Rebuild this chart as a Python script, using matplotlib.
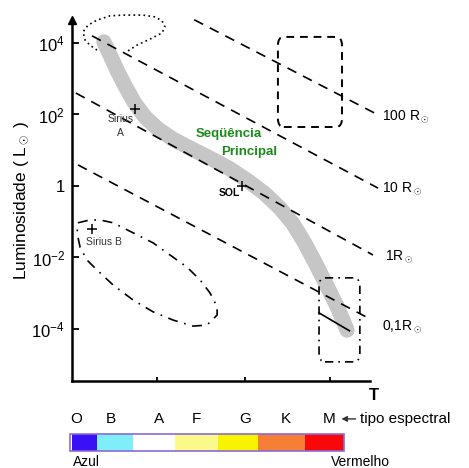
import matplotlib
matplotlib.use("Agg")
import matplotlib.pyplot as plt
from matplotlib.patches import FancyBboxPatch, Rectangle

plt.rcParams["font.family"] = ["Liberation Sans", "DejaVu Sans"]
plt.rcParams["mathtext.fontset"] = "custom"
plt.rcParams["mathtext.rm"] = "Liberation Sans"
plt.rcParams["mathtext.it"] = "Liberation Sans"

# eixo x: indice de temperatura (0 = quente, 10 = frio); eixo y: log10(L/Lsol)
seq_x = [1.07, 1.28, 1.51, 1.78, 2.08, 2.45, 2.89, 3.39, 3.96, 4.63, 5.30,
         5.91, 6.48, 6.98, 7.42, 7.79, 8.15, 8.52, 8.89, 9.23]
seq_y = [4.03, 3.66, 3.24, 2.80, 2.35, 1.93, 1.59, 1.31, 1.06, 0.78, 0.48,
         0.14, -0.22, -0.62, -1.06, -1.57, -2.13, -2.74, -3.36, -4.03]

raios = ["100 R$_\\odot$", "10 R$_\\odot$", "1R$_\\odot$", "0,1R$_\\odot$"]
raio_x = [(4.10, 10.27), (0.67, 10.27), (0.13, 10.10), (0.20, 10.0)]
raio_y = [(4.65, 1.99), (4.20, -0.06), (2.60, -1.93), (0.59, -3.72)]
raio_lbl = [(10.40, 1.93), (10.40, -0.06), (10.52, -1.96), (10.40, -3.94)]

gig_x = [0.84, 0.60, 0.44, 0.37, 0.54, 0.84, 1.28, 1.71, 2.38, 2.79, 3.02,
         3.12, 3.02, 2.62, 2.18, 1.88]
gig_y = [3.80, 3.94, 4.08, 4.31, 4.50, 4.64, 4.76, 4.78, 4.78, 4.73, 4.62,
         4.45, 4.28, 4.11, 3.94, 3.78]

ab_x = [0.20, 0.60, 0.94, 1.38, 2.05, 2.72, 3.39, 3.86, 4.30, 4.63, 4.87,
        4.87, 4.53, 4.06, 3.39, 2.72, 2.05, 1.38, 0.84, 0.50, 0.27, 0.17, 0.20]
ab_y = [-1.03, -0.95, -0.95, -1.03, -1.31, -1.59, -1.99, -2.27, -2.63, -2.99,
        -3.38, -3.61, -3.89, -3.92, -3.75, -3.52, -3.19, -2.77, -2.35, -2.07,
        -1.71, -1.31, -1.03]

supergig = (6.91, 1.65, 9.06, 4.17)
anas_verm = (8.29, -4.92, 9.66, -2.57)

estrelas = {"sol": (5.70, 0.0), "siriusA": (2.11, 2.15), "siriusB": (0.67, -1.20)}

y_ticks = [4, 2, 0, -2, -4]
y_labels = ["$10^4$", "$10^2$", "1", "$10^{-2}$", "$10^{-4}$"]
x_ticks = [2.85, 5.81, 8.66]

tipos = ["O", "B", "A", "F", "G", "K", "M"]
tipos_x = [0.13, 1.31, 2.92, 4.19, 5.81, 7.18, 8.62]

faixa_lim = [-0.07, 0.84, 2.05, 3.46, 4.90, 6.24, 7.82, 9.13]
faixa_cor = ["#3a10f5", "#80eef8", "#ffffff", "#fbf98a", "#f8f400", "#f58035", "#f80808"]


fig = plt.figure(figsize=(4.69, 4.68), dpi=100)
ax = fig.add_axes([72 / 469, 1 - 381 / 468, 298 / 469, 361 / 468])
ax.set_xlim(0, 10)
ax.set_ylim(-5.455, 4.643)

ax.plot(seq_x, seq_y, color="#c6c6c6", lw=11, solid_capstyle="round",
        solid_joinstyle="round", zorder=1)

for (x0, x1), (y0, y1) in zip(raio_x, raio_y):
    ax.plot([x0, x1], [y0, y1], color="black", lw=1.2, ls=(0, (6, 4.5)),
            clip_on=False, zorder=3)
for txt, (lx, ly) in zip(raios, raio_lbl):
    ax.text(lx, ly, txt, fontsize=10, ha="left", va="center", clip_on=False)

ax.plot(gig_x, gig_y, color="black", lw=1.2, ls=(0, (1, 2)), clip_on=False)
ax.plot(ab_x, ab_y, color="black", lw=1.2, ls=(0, (6, 4, 1, 4)))

x0, y0, x1, y1 = supergig
ax.add_patch(FancyBboxPatch((x0, y0), x1 - x0, y1 - y0,
                            boxstyle="round,pad=0,rounding_size=0.2",
                            fill=False, lw=1.4, ls=(0, (4, 3)), mutation_aspect=1.2))
x0, y0, x1, y1 = anas_verm
ax.add_patch(FancyBboxPatch((x0, y0), x1 - x0, y1 - y0,
                            boxstyle="round,pad=0,rounding_size=0.2",
                            fill=False, lw=1.2, ls=(0, (5, 3, 1, 3)), mutation_aspect=1.2))
ax.plot([8.29, 9.31], [-3.55, -4.05], color="black", lw=1.2)

for nome, (sx, sy) in estrelas.items():
    ax.plot(sx, sy, marker="+", color="black", ms=7, mew=1.1, zorder=4)
ax.text(5.64, -0.20, "SOL", fontsize=7.5, fontweight="bold", ha="right", va="center")
ax.text(1.64, 1.87, "Sirius", fontsize=7.5, color="#333333", ha="center", va="center")
ax.text(1.64, 1.48, "A", fontsize=7.5, color="#333333", ha="center", va="center")
ax.text(0.47, -1.57, "Sirius B", fontsize=7.5, color="#333333", ha="left", va="center")
ax.text(4.16, 1.45, "Seqüência", fontsize=9.5, fontweight="bold", color="#1b8a1b",
        ha="left", va="center")
ax.text(5.0, 0.95, "Principal", fontsize=9.5, fontweight="bold", color="#1b8a1b",
        ha="left", va="center")

for s in ["top", "right"]:
    ax.spines[s].set_visible(False)
for s in ["left", "bottom"]:
    ax.spines[s].set_linewidth(1.8)
ax.plot(0, 1.0, marker="^", color="black", ms=6, transform=ax.transAxes,
        clip_on=False, zorder=5)

ax.set_yticks(y_ticks)
ax.set_yticklabels(y_labels, fontsize=12)
ax.set_xticks(x_ticks)
ax.set_xticklabels([])
ax.tick_params(axis="y", direction="in", length=5, width=1.3, pad=5)
ax.tick_params(axis="x", direction="in", length=3, width=1.3)
fig.text(22 / 469, 1 - 201 / 468, "Luminosidade ( L$_\\odot$ )", fontsize=12.5,
         rotation=90, ha="center", va="center")

tr = ax.get_xaxis_transform()
ax.text(10.13, -0.04, "T", fontsize=12, fontweight="bold", ha="center", va="center",
        transform=tr)
for t, tx in zip(tipos, tipos_x):
    ax.text(tx, -0.105, t, fontsize=11, ha="center", va="center", transform=tr)
ax.annotate("tipo espectral", xy=(9.04, -0.105), xytext=(9.66, -0.105),
            xycoords=tr, textcoords=tr, fontsize=11, ha="left", va="center",
            arrowprops=dict(arrowstyle="-|>", color="#333333", lw=1, shrinkA=1, shrinkB=0,
                            mutation_scale=8))

cb = fig.add_axes([72 / 469, 1 - 451 / 468, 298 / 469, 17 / 468])
cb.set_xlim(0, 10)
cb.set_ylim(0, 1)
for a, b, c in zip(faixa_lim[:-1], faixa_lim[1:], faixa_cor):
    cb.add_patch(Rectangle((a, 0), b - a, 1, color=c, lw=0))
cb.add_patch(Rectangle((faixa_lim[0], 0), faixa_lim[-1] - faixa_lim[0], 1,
                       fill=False, edgecolor="#8a6ad8", lw=1.2, clip_on=False))
cb.axis("off")

fig.text(73 / 469, 1 - 462 / 468, "Azul", fontsize=10, ha="left", va="center")
fig.text(331 / 469, 1 - 462 / 468, "Vermelho", fontsize=10, ha="left", va="center")

fig.savefig("out.png", dpi=100)
